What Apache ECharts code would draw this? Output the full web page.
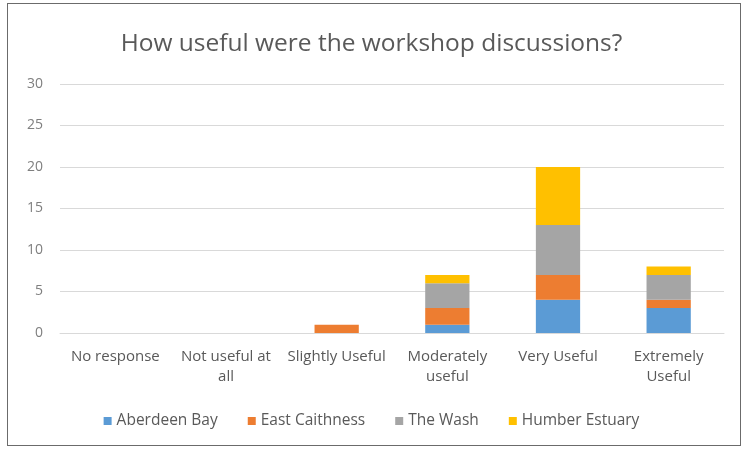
<!DOCTYPE html>
<html><head><meta charset="utf-8">
<script src="https://cdn.jsdelivr.net/npm/echarts@6/dist/echarts.min.js"></script>
<style>html,body{margin:0;padding:0;background:#fff}#c{width:743px;height:450px}
#frame{position:absolute;left:7px;top:3px;width:732px;height:441px;border:1px solid #6b6b6b;pointer-events:none}</style>
</head><body><div id="c"></div><div id="frame"></div>
<script>
const categories = ['No response', 'Not useful at all', 'Slightly Useful', 'Moderately useful', 'Very Useful', 'Extremely Useful'];
const categoryLabels = ['No response', 'Not useful at\nall', 'Slightly Useful', 'Moderately\nuseful', 'Very Useful', 'Extremely\nUseful'];
const aberdeenBay = [0, 0, 0, 1, 4, 3];
const eastCaithness = [0, 0, 1, 2, 3, 1];
const theWash = [0, 0, 0, 3, 6, 3];
const humberEstuary = [0, 0, 0, 1, 7, 1];
const seriesNames = ['Aberdeen Bay', 'East Caithness', 'The Wash', 'Humber Estuary'];
const seriesData = [aberdeenBay, eastCaithness, theWash, humberEstuary];
const colors = ['#5B9BD5', '#ED7D31', '#A5A5A5', '#FFC000'];
const yTicks = [0, 5, 10, 15, 20, 25, 30];

const chart = echarts.init(document.getElementById('c'));
const font = 'Open Sans';
chart.setOption({
  animation: false,
  color: colors,
  title: {
    text: 'How useful were the workshop discussions?',
    left: 'center', top: 27,
    textStyle: {fontFamily: font, fontSize: 24.5, fontWeight: 'normal', color: '#595959'}
  },
  legend: {
    bottom: 16, left: 'center', itemWidth: 8, itemHeight: 8, itemGap: 30,
    icon: 'rect',
    textStyle: {fontFamily: font, fontSize: 15.5, color: '#595959'},
    data: seriesNames
  },
  grid: {left: 60, right: 19, top: 84, bottom: 117},
  xAxis: {
    type: 'category', data: categories,
    axisLine: {lineStyle: {color: '#d9d9d9'}},
    axisTick: {show: false},
    axisLabel: {
      fontFamily: font, fontSize: 15, color: '#595959', interval: 0, margin: 14, lineHeight: 20,
      formatter: (v, i) => categoryLabels[i]
    }
  },
  yAxis: {
    type: 'value', min: yTicks[0], max: yTicks[yTicks.length - 1], interval: 5,
    axisLine: {show: false}, axisTick: {show: false},
    splitLine: {lineStyle: {color: '#d9d9d9'}},
    axisLabel: {fontFamily: font, fontSize: 14, color: '#7f7f7f', margin: 17}
  },
  series: seriesData.map((d, i) => ({
    name: seriesNames[i], type: 'bar', stack: 'total', data: d, barWidth: '40%'
  }))
});
</script></body></html>
